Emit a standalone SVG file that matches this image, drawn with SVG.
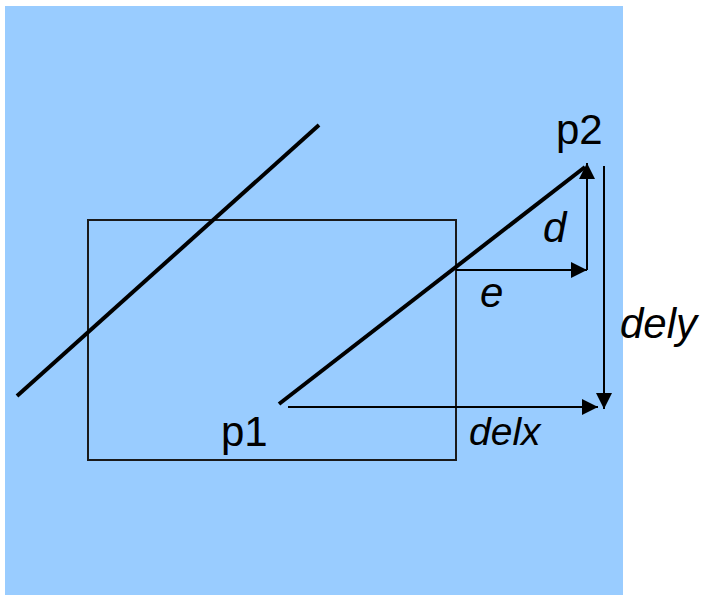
<svg xmlns="http://www.w3.org/2000/svg" width="704" height="595" viewBox="0 0 704 595">
<defs>
<style>
.lbl{font-family:"Liberation Sans",Arial,sans-serif;font-size:42px;fill:#000}
.it{font-style:italic}
.arr{stroke:#000;stroke-width:2;fill:none}
.thick{stroke:#000;stroke-width:4;fill:none}
</style>
<marker id="ah" markerUnits="userSpaceOnUse" markerWidth="16" markerHeight="16" viewBox="0 0 16 16" refX="16" refY="8" orient="auto">
<path d="M0,0 L16,8 L0,16 Z" fill="#000"/>
</marker>
</defs>
<rect x="5" y="6" width="618" height="589" fill="#99ccff"/>
<g id="box"><rect x="88" y="220" width="368" height="240" fill="none" stroke="#1a1a1a" stroke-width="2"/></g>
<g id="connectors">
<line class="thick" x1="17" y1="396" x2="319" y2="125"/>
<line class="thick" x1="279" y1="404" x2="585" y2="167"/>
<line class="arr" x1="456" y1="270" x2="587" y2="270" marker-end="url(#ah)"/>
<line class="arr" x1="587" y1="270" x2="587" y2="163" marker-end="url(#ah)"/>
<line class="arr" x1="288" y1="407" x2="598" y2="407" marker-end="url(#ah)"/>
<line class="arr" x1="604" y1="166" x2="604" y2="409" marker-end="url(#ah)"/>
</g>
<g id="labels">
<text class="lbl" x="556" y="144">p2</text>
<text class="lbl" x="221" y="446">p1</text>
<text class="lbl it" x="543" y="242">d</text>
<text class="lbl it" x="480" y="307">e</text>
<text class="lbl it" x="620" y="338">dely</text>
<text class="lbl it" x="469" y="445" style="font-size:39px">delx</text>
</g>
</svg>
